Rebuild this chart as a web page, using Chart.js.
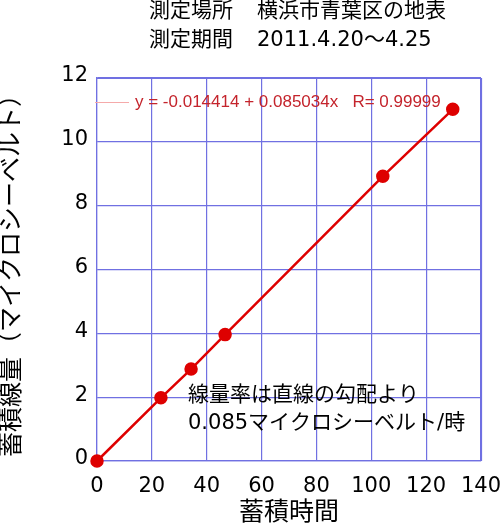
<!DOCTYPE html>
<html>
<head>
<meta charset="utf-8">
<script src="https://cdn.jsdelivr.net/npm/chart.js@4/dist/chart.umd.min.js"></script>
<style>
  body { margin: 0; background: #fff; }
  #wrap { width: 500px; height: 527px; }
</style>
</head>
<body>
<div id="wrap"><canvas id="myChart" width="500" height="527"></canvas></div>
<script>
'use strict';

// accumulated time (hours) and accumulated dose (microsievert)
let hours = [0, 23.3, 34.3, 46.7, 104.2, 129.7];
let dose = [0, 1.98, 2.88, 3.96, 8.92, 11.02];

let xTicks = [0, 20, 40, 60, 80, 100, 120, 140];
let yTicks = [0, 2, 4, 6, 8, 10, 12];

let headerLabels = ['測定場所', '測定期間'];
let headerValues = ['横浜市青葉区の地表', '2011.4.20〜4.25'];
let fitText = 'y = -0.014414 + 0.085034x   R= 0.99999';
let noteLines = ['線量率は直線の勾配より', '0.085マイクロシーベルト/時'];

let xTitle = '蓄積時間';
let yTitle = '蓄積線量（マイクロシーベルト）';

const fontStack = '"DejaVu Sans", "Noto Sans CJK JP", sans-serif';
const gridColor = 'rgb(112, 112, 226)';
const red = 'rgb(222, 0, 0)';

let points = [];
for (let i = 0; i < hours.length; i++) {
  points.push({ x: hours[i], y: dose[i] });
}

// header, fit legend and note are plain canvas text
let textPlugin = {
  id: 'extraText',
  afterDraw(chart) {
    let ctx = chart.ctx;
    ctx.save();
    ctx.fillStyle = '#000';
    ctx.textBaseline = 'middle';
    ctx.textAlign = 'left';
    ctx.font = '21px ' + fontStack;
    for (let i = 0; i < headerLabels.length; i++) {
      let y = 12 + i * 29;
      ctx.fillText(headerLabels[i], 149, y);
      ctx.fillText(headerValues[i], 257, y);
    }

    for (let i = 0; i < noteLines.length; i++) {
      ctx.fillText(noteLines[i], 188, 396 + i * 28);
    }

    // curve fit legend
    ctx.strokeStyle = 'rgb(245, 170, 170)';
    ctx.lineWidth = 1;
    ctx.beginPath();
    ctx.moveTo(95, 102.5);
    ctx.lineTo(129, 102.5);
    ctx.stroke();
    ctx.fillStyle = 'rgb(196, 36, 44)';
    ctx.font = '17px "Liberation Sans", "DejaVu Sans", sans-serif';
    ctx.fillText(fitText, 135, 102);
    ctx.restore();
  }
};

let ctx = document.getElementById('myChart').getContext('2d');
let myChart = new Chart(ctx, {
  type: 'scatter',
  data: {
    datasets: [{
      data: points,
      showLine: true,
      borderColor: red,
      backgroundColor: red,
      borderWidth: 2.5,
      pointRadius: 5.5,
      pointHoverRadius: 5.5,
      clip: false
    }]
  },
  options: {
    responsive: false,
    animation: false,
    layout: {
      padding: { top: 78, right: 0, left: 0, bottom: 0 }
    },
    plugins: {
      legend: { display: false },
      tooltip: { enabled: false }
    },
    scales: {
      x: {
        type: 'linear',
        min: 0,
        max: 140,
        afterBuildTicks: function (scale) {
          scale.ticks = xTicks.map(function (v) { return { value: v }; });
        },
        afterFit: function (scale) {
          scale.height = 66;
          scale.paddingLeft = 0;
          scale.paddingRight = 19;
        },
        grid: { color: gridColor, lineWidth: 1.2, drawTicks: false },
        border: { color: gridColor, width: 1.2 },
        ticks: {
          color: '#000',
          padding: 13,
          maxRotation: 0,
          font: { family: fontStack, size: 21 }
        },
        title: {
          display: true,
          text: xTitle,
          color: '#000',
          padding: { top: 1, bottom: 1 },
          font: { family: fontStack, size: 25, lineHeight: 1 }
        }
      },
      y: {
        type: 'linear',
        min: 0,
        max: 12,
        afterBuildTicks: function (scale) {
          scale.ticks = yTicks.map(function (v) { return { value: v }; });
        },
        afterFit: function (scale) {
          scale.width = 97;
        },
        grid: { color: gridColor, lineWidth: 1.2, drawTicks: false },
        border: { color: gridColor, width: 1.2 },
        ticks: {
          color: '#000',
          padding: 9,
          labelOffset: -2,
          font: { family: fontStack, size: 21 }
        },
        title: {
          display: true,
          text: yTitle,
          color: '#000',
          padding: { top: 0, bottom: 0 },
          font: { family: fontStack, size: 25, lineHeight: 1 }
        }
      }
    }
  },
  plugins: [textPlugin, {
    id: 'rightTopBorder',
    afterDraw(chart) {
      // close the frame on top and right like the original plot box
      let a = chart.chartArea;
      let c = chart.ctx;
      c.save();
      c.strokeStyle = gridColor;
      c.lineWidth = 1.2;
      c.beginPath();
      c.moveTo(a.left, a.top + 0.5);
      c.lineTo(a.right + 0.5, a.top + 0.5);
      c.lineTo(a.right + 0.5, a.bottom);
      c.stroke();
      c.restore();
    }
  }]
});
</script>
</body>
</html>
